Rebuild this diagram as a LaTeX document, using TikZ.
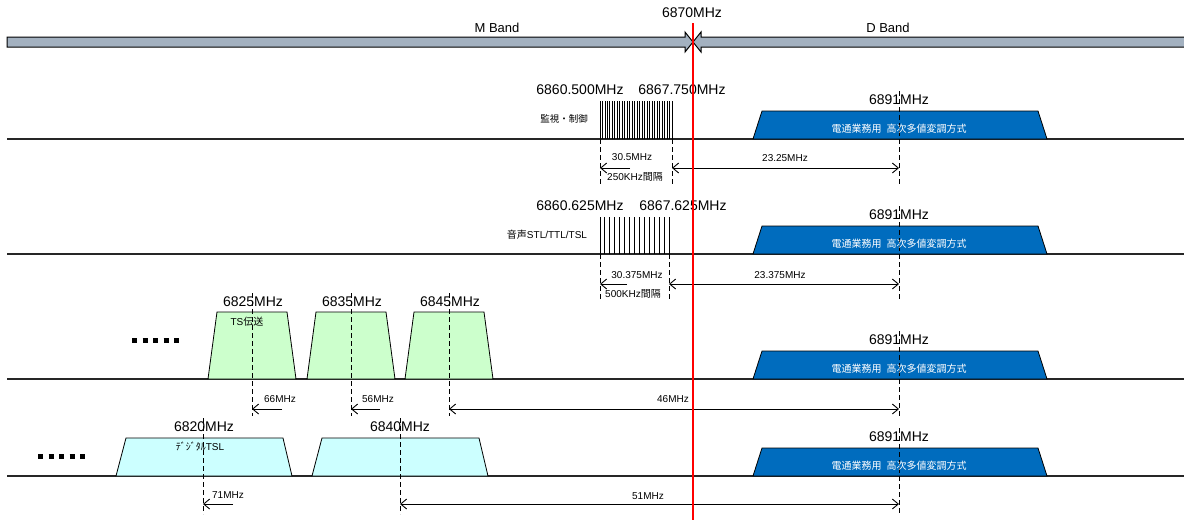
\documentclass[tikz,border=0pt]{standalone}
\usepackage{fontspec}
\setmainfont{Liberation Sans}
\newfontfamily\cjk{Noto Sans CJK JP}
\usetikzlibrary{arrows.meta}
\definecolor{bandGray}{RGB}{163,177,192}
\definecolor{carrierBlue}{RGB}{0,108,190}
\definecolor{tsGreen}{RGB}{204,255,204}
\definecolor{tslCyan}{RGB}{204,255,255}

\begin{document}
\begin{tikzpicture}
[x=1pt,y=-1pt,
  baseDecorate/.style={line width=1.2pt,black!85},%
  guideDecorate/.style={line width=1pt,dash pattern=on 5pt off 3pt},
  dimDecorate/.style={line width=0.9pt,-{Straight Barb[length=6pt,width=10pt]}},
  bothDecorate/.style={line width=0.9pt,{Straight Barb[length=6pt,width=10pt]}-{Straight Barb[length=6pt,width=10pt]}},
  combDecorate/.style={line width=0.9pt},
  trapDecorate/.style={draw=black,line width=0.8pt},
  dotDecorate/.style={line width=5pt,dash pattern=on 5pt off 5.5pt},
  bigLabel/.style={inner sep=0pt,font=\fontsize{14}{16}\selectfont},
  bandLabel/.style={inner sep=0pt,font=\fontsize{13}{15}\selectfont},
  smallLabel/.style={inner sep=0pt,font=\fontsize{10}{12}\selectfont},
  cjkLabel/.style={inner sep=0pt,font=\cjk\fontsize{9.5}{11}\selectfont},
  carrierLabel/.style={inner sep=0pt,text=white,font=\cjk\fontsize{10}{12}\selectfont}]
\useasboundingbox (0,0) rectangle (1184,520);
%% band bar
\fill[bandGray] (7,37) -- (685,37) -- (685,32) -- (693,42) -- (685,52) -- (685,47) -- (7,47) -- cycle;
\fill[bandGray] (1184,37) -- (701,37) -- (701,32) -- (693,42) -- (701,52) -- (701,47) -- (1184,47) -- cycle;
\draw[line width=1pt] (7,37) -- (685,37) -- (685,32) -- (693,42) -- (685,52) -- (685,47) -- (7,47) -- cycle;
\draw[line width=1pt] (1184,37) -- (701,37) -- (701,32) -- (693,42) -- (701,52) -- (701,47) -- (1184,47);
\node (mBand) at (497,28) [bandLabel] {M Band};
\node (dBand) at (888,28) [bandLabel] {D Band};
\node (fEdge) at (692,13) [bigLabel] {6870MHz};

%% base lines and the 6891MHz carrier of each row
\foreach \row/\b/\e in {1/139/185, 2/254/300, 3/379/416, 4/476/514}
{
  \coordinate (base\row L) at (7,\b);
  \coordinate (base\row R) at (1184,\b);
  \draw[baseDecorate] (base\row L) -- (base\row R);
  \filldraw[carrierBlue,trapDecorate] (753,\b) -- (762,\b-28) -- (1038,\b-28) -- (1047,\b) -- cycle;
  \coordinate (mid\row T) at (899,\b-48);
  \coordinate (mid\row B) at (899,\e);
  \draw[guideDecorate] (mid\row T) -- (mid\row B);
  \node (carrier\row) at (899,\b-10) [carrierLabel] {電通業務用\hspace{5pt}高次多値変調方式};
  \node (f6891\row) at (899,\b-39) [bigLabel] {6891MHz};
}

%% row 1: monitoring comb
\foreach \i in {0,...,29}
{
  \draw[combDecorate] ({600+\i*72/29},101) -- ({600+\i*72/29},139);
}
\node (f1L) at (580,90) [bigLabel] {6860.500MHz};
\node (f1R) at (682,90) [bigLabel] {6867.750MHz};
\node (mon) at (564,119) [cjkLabel] {監視・制御};
\node (bw1) at (632,157) [smallLabel] {30.5MHz};
\node (sp1) at (635,177) [smallLabel] {250KHz{\cjk 間隔}};
\node (d1) at (785,158) [smallLabel] {23.25MHz};

%% row 2: audio comb
\foreach \i in {0,...,14}
{
  \draw[combDecorate] ({600+\i*69/14},217) -- ({600+\i*69/14},254);
}
\node (f2L) at (580,206) [bigLabel] {6860.625MHz};
\node (f2R) at (683,206) [bigLabel] {6867.625MHz};
\node (aud) at (547,235) [smallLabel] {{\cjk 音声}STL/TTL/TSL};
\node (bw2) at (637,275) [smallLabel] {30.375MHz};
\node (sp2) at (633,294) [smallLabel] {500KHz{\cjk 間隔}};
\node (d2) at (780,275) [smallLabel] {23.375MHz};

%% row 3: TS channels
\foreach \c/\f in {252/6825, 351/6835, 449/6845}
{
  \filldraw[fill=tsGreen,trapDecorate] (\c-44,379) -- (\c-35,312) -- (\c+35,312) -- (\c+44,379) -- cycle;
  \node (ts\f) at (\c+1,302) [bigLabel] {\f MHz};
}
\node (tsName) at (247,322) [smallLabel] {TS{\cjk 伝送}};
\node (d66) at (280,399) [smallLabel] {66MHz};
\node (d56) at (378,399) [smallLabel] {56MHz};
\node (d46) at (673,399) [smallLabel] {46MHz};
\draw[dotDecorate] (132,340) -- (179,340);

%% row 4: digital TSL channels
\foreach \c/\f in {204/6820, 400/6840}
{
  \filldraw[fill=tslCyan,trapDecorate] (\c-88,476) -- (\c-78,438) -- (\c+79,438) -- (\c+88,476) -- cycle;
  \node (tsl\f) at (\c,427) [bigLabel] {\f MHz};
}
\node (tslName) at (200,447) [smallLabel] {{\cjk ﾃﾞｼﾞﾀﾙ}TSL};
\node (d71) at (228,495) [smallLabel] {71MHz};
\node (d51) at (648,496) [smallLabel] {51MHz};
\draw[dotDecorate] (38,456) -- (85,456);

%% guide lines
\foreach \gname/\x/\ya/\yb in {
  g1a/600/139/185, g1b/672/139/185, g2a/600/254/300, g2b/669/254/300,
  g3a/252/293/416, g3b/351/293/416, g3c/449/293/416,
  g4a/203/418/514, g4b/400/418/514}
{
  \coordinate (\gname T) at (\x,\ya);
  \coordinate (\gname B) at (\x,\yb);
  \draw[guideDecorate] (\gname T) -- (\gname B);
}

%% dimension arrows
\foreach \aname/\xa/\xb/\y in {
  a1/630/600/168, a2/627/600/284, a3/282/252/409, a4/380/351/409, a5/233/203/504}
{
  \coordinate (\aname S) at (\xa,\y);
  \coordinate (\aname E) at (\xb,\y);
  \draw[dimDecorate] (\aname S) -- (\aname E);
}
\foreach \aname/\xa/\xb/\y in {
  b1/672/899/168, b2/669/899/284, b3/449/899/409, b4/400/899/504}
{
  \coordinate (\aname S) at (\xa,\y);
  \coordinate (\aname E) at (\xb,\y);
  \draw[bothDecorate] (\aname S) -- (\aname E);
}

%% 6870MHz boundary
\coordinate (edgeT) at (693,23);
\coordinate (edgeB) at (693,520);
\draw[red,line width=2.6pt] (edgeT) -- (edgeB);
\end{tikzpicture}
\end{document}
